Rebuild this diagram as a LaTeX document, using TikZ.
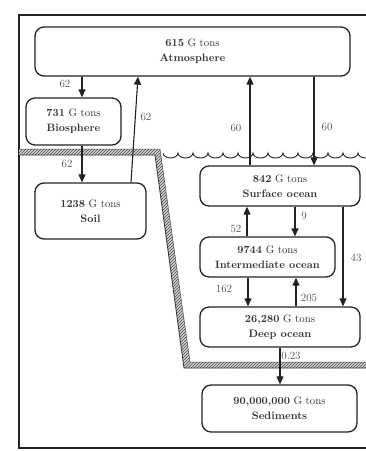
\documentclass[tikz,border=0pt]{standalone}
\usetikzlibrary{arrows.meta,patterns}
\definecolor{ink}{HTML}{222222}
\definecolor{txt}{HTML}{333333}
\definecolor{lbl}{HTML}{4A4A4A}
\begin{document}
\begin{tikzpicture}[x=1pt,y=-1pt,
  box/.style={draw=ink,line width=1.3pt,rounded corners=9pt,align=center,
    inner sep=0pt,text=txt,font=\fontsize{10.8}{15}\selectfont},
  arr/.style={draw=ink,line width=1.1pt,-{Triangle[length=8pt,width=7pt]}},
  lab/.style={text=lbl,font=\fontsize{11}{12}\selectfont,inner sep=0pt}]
\useasboundingbox (0,0) rectangle (366,451);
% frame
\draw[ink,line width=1.1pt] (366,15) -- (19,15) -- (19,448) -- (366,448);
% hatched boundary
\fill[gray!35]
  (19,149) -- (160,149) -- (190,362) -- (366,362) -- (366,368) -- (184,368) -- (155,155) -- (19,155) -- cycle;
\fill[pattern=north east lines,pattern color=gray!60!black]
  (19,149) -- (160,149) -- (190,362) -- (366,362) -- (366,368) -- (184,368) -- (155,155) -- (19,155) -- cycle;
\draw[gray!60!black,line width=0.5pt] (19,149) -- (160,149) -- (190,362) -- (366,362);
\draw[gray!40!black,line width=0.8pt] (366,368) -- (184,368) -- (155,155) -- (19,155);
% waves
\draw[ink,line width=0.9pt] (163,153)
  \foreach \i in {0,...,13} { arc[start angle=180,end angle=360,x radius=7.5pt,y radius=5pt] };
% boxes
\node[box,minimum width=315pt,minimum height=49pt] (atm) at (192.5,51.5) {\textbf{615} G tons\\\textbf{Atmosphere}};
\node[box,minimum width=95pt,minimum height=47pt] (bio) at (73.5,121.5) {\textbf{731} G tons\\\textbf{Biosphere}};
\node[box,minimum width=111pt,minimum height=56pt] (soil) at (90.5,211) {\textbf{1238} G tons\\\textbf{Soil}};
\node[box,minimum width=160pt,minimum height=40pt,fill=white] (surf) at (280,186) {\textbf{842} G tons\\\textbf{Surface ocean}};
\node[box,minimum width=135pt,minimum height=40pt] (inter) at (267.5,257) {\textbf{9744} G tons\\\textbf{Intermediate ocean}};
\node[box,minimum width=160pt,minimum height=40pt] (deep) at (280,327) {\textbf{26,280} G tons\\\textbf{Deep ocean}};
\node[box,minimum width=155pt,minimum height=47pt] (sed) at (279.5,408.5) {\textbf{90,000,000} G tons\\\textbf{Sediments}};
% connectors
\draw[arr] (atm.south -| 82,0) -- (bio.north -| 82,0);
\draw[arr] (bio.south -| 82,0) -- (soil.north -| 82,0);
\draw[arr] (soil.north -| 131,0) -- (atm.south -| 138,0);
\draw[arr] (surf.north -| 250,0) -- (atm.south -| 250,0);
\draw[arr] (atm.south -| 314,0) -- (surf.north -| 314,0);
\draw[arr] (inter.north -| 247,0) -- (surf.south -| 247,0);
\draw[arr] (surf.south -| 295,0) -- (inter.north -| 295,0);
\draw[arr] (surf.south -| 343,0) -- (deep.north -| 343,0);
\draw[arr] (inter.south -| 248,0) -- (deep.north -| 248,0);
\draw[arr] (deep.north -| 296,0) -- (inter.south -| 296,0);
\draw[arr] (deep.south -| 280,0) -- (sed.north -| 280,0);
% labels
\node[lab] (l1) at (65,84) {62};
\node[lab] (l2) at (67,164) {62};
\node[lab] (l3) at (146,117) {62};
\node[lab] (l4) at (236,128) {60};
\node[lab] (l5) at (327,127) {60};
\node[lab] (l6) at (236,229) {52};
\node[lab] (l7) at (304,216) {9};
\node[lab] (l8) at (356,258) {43};
\node[lab] (l9) at (224,289) {162};
\node[lab] (l10) at (309,298) {205};
\node[lab] (l11) at (291,356) {0.23};
\end{tikzpicture}
\end{document}
